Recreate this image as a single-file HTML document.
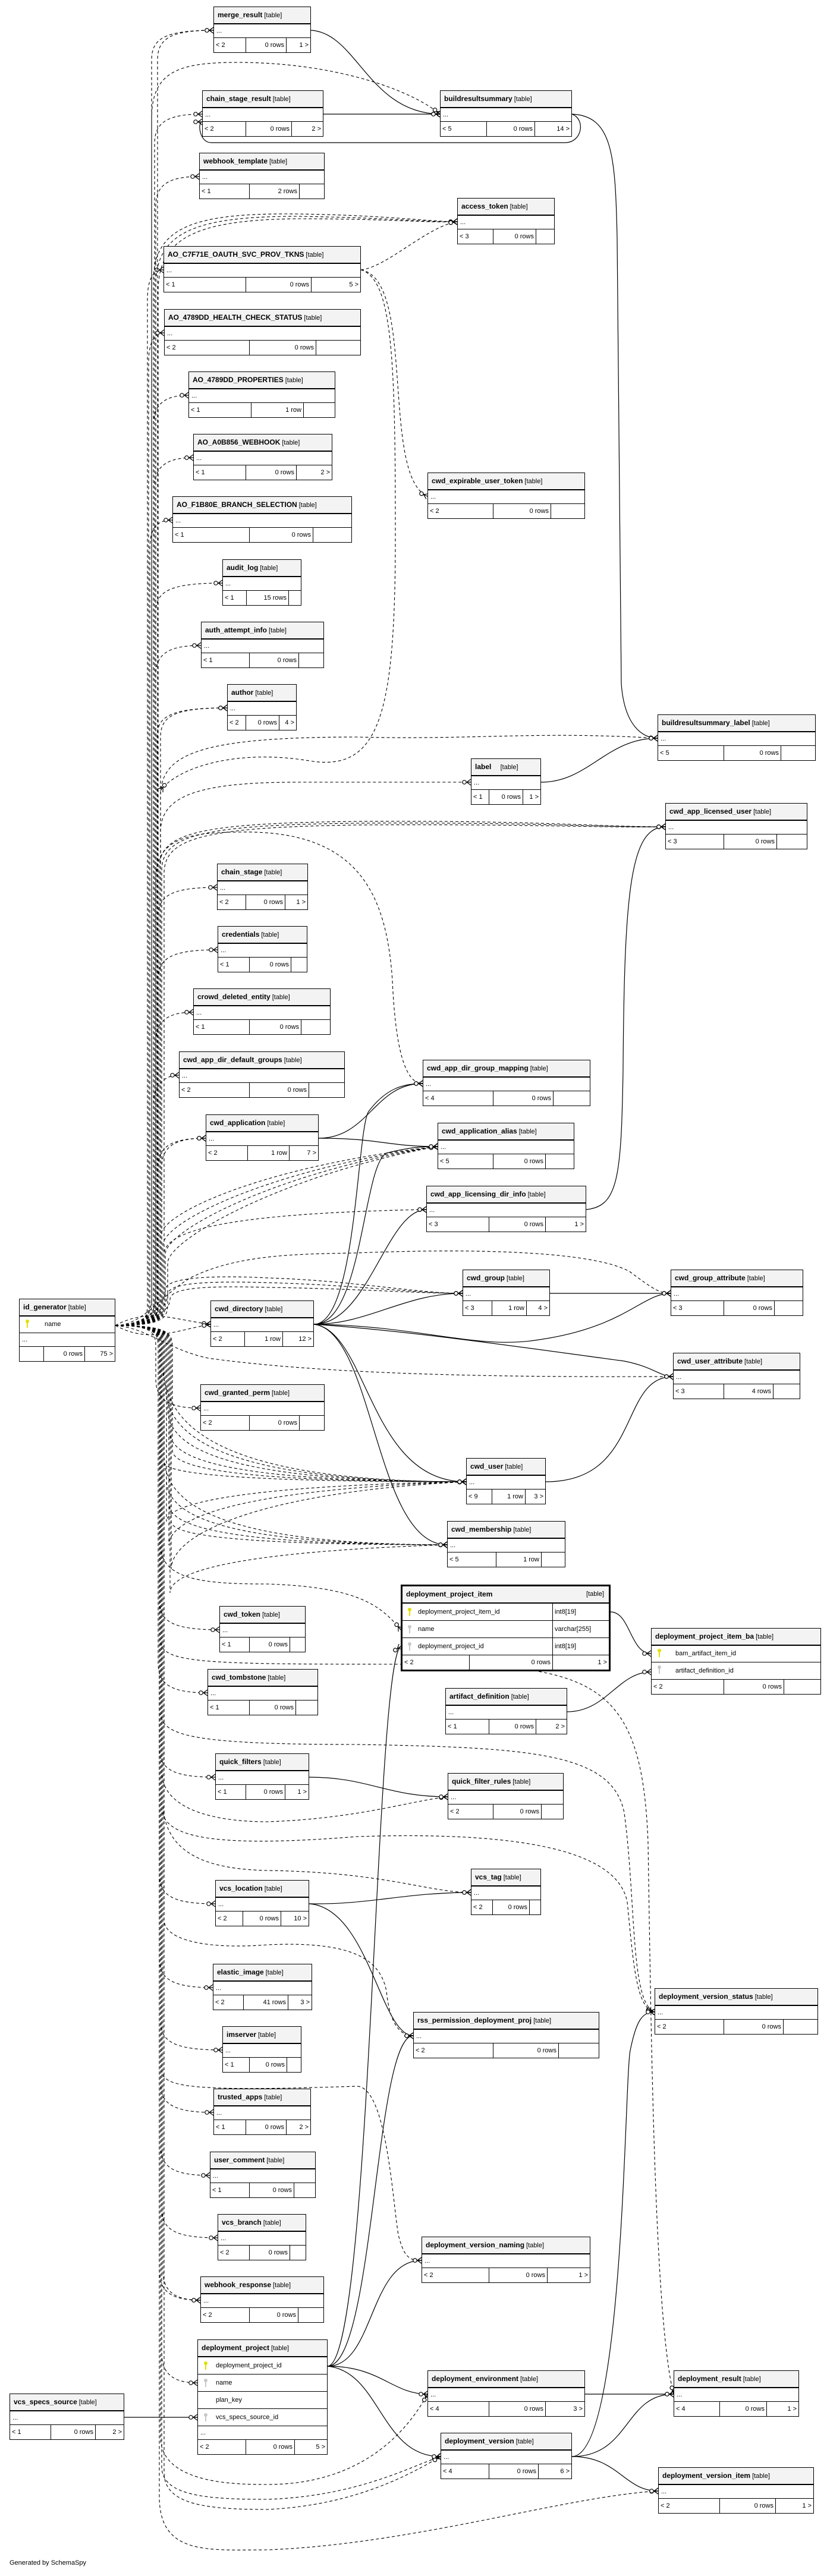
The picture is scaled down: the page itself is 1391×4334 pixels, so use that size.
<!DOCTYPE html>
<html><head><meta charset="utf-8"><style>
html,body{margin:0;padding:0;background:#fff}
body{width:1391px;height:4334px;position:relative;overflow:hidden;font-family:"Liberation Sans",sans-serif;color:#000}
svg.c{position:absolute;left:0;top:0}
.t{position:absolute;border:1px solid #000;background:#fff;font-size:11px;box-sizing:border-box}
.h{height:27px;line-height:27px;background:#f3f3f3;border-bottom:2px solid #000;padding-left:6px;white-space:nowrap;overflow:hidden;font-size:11px}
.h b{font-size:12px;margin-right:3px}
.r{height:22px;line-height:22px;border-bottom:1px solid #000;padding-left:4px;white-space:nowrap;overflow:hidden;position:relative}
.f{height:24px;display:flex;line-height:24px;white-space:nowrap}
.f span{box-sizing:border-box;padding:0 3px;overflow:hidden}
.f span+span{border-left:1px solid #000;text-align:right}
.f span:last-child{flex:1}
.k{position:absolute;top:4px}
.gen{position:absolute;left:16px;top:4306px;font-size:11px}
.thick{border:3px solid #000}
.cr{height:28px;line-height:28px;border-bottom:1px solid #000;display:flex;white-space:nowrap}
.cr span{box-sizing:border-box;overflow:hidden}
</style></head><body>

<svg class="c" width="1391" height="4334" viewBox="0 0 1391 4334">
<defs>
<marker id="cf" markerWidth="20" markerHeight="14" refX="19" refY="7" orient="auto" markerUnits="userSpaceOnUse">
<path d="M12 7L19 7M12 7L19 2M12 7L19 12" stroke="#000" fill="none" stroke-width="1.2"/>
<circle cx="8" cy="7" r="3.2" fill="#fff" stroke="#000" stroke-width="1.2"/>
</marker>
</defs>
<g fill="none" stroke="#000" stroke-width="1.1" stroke-dasharray="5,4" marker-end="url(#cf)">
<path d="M194 2230C255 2230 255 2215 255 2190L255 101C255 66 275 51 359 51"/>
<path d="M194 2230C265 2230 265 2215 265 2190L265 101C265 66 285 51 359 51"/>
<path d="M194 2230C260 2230 260 2215 260 2190L260 242C260 207 280 192 340 192"/>
<path d="M194 2230C262 2230 262 2215 262 2190L262 347C262 312 282 297 335 297"/>
<path d="M194 2230C248 2230 248 2215 248 2190L248 504C248 469 258 454 275 454"/>
<path d="M194 2230C250 2230 250 2215 250 2190L250 610C250 575 260 560 276 560"/>
<path d="M194 2230C258 2230 258 2215 258 2190L258 715C258 680 278 665 317 665"/>
<path d="M194 2230C260 2230 260 2215 260 2190L260 820C260 785 280 770 325 770"/>
<path d="M194 2230C252 2230 252 2215 252 2190L252 925C252 890 262 875 290 875"/>
<path d="M194 2230C262 2230 262 2215 262 2190L262 1031C262 996 282 981 374 981"/>
<path d="M194 2230C262 2230 262 2215 262 2190L262 1136C262 1101 282 1086 338 1086"/>
<path d="M194 2230C264 2230 264 2215 264 2190L264 1241C264 1206 284 1191 382 1191"/>
<path d="M194 2230C270 2230 270 2215 270 2190L270 1241C270 1206 290 1191 382 1191"/>
<path d="M194 2230C266 2230 266 2215 266 2190L266 1543C266 1508 286 1493 365 1493"/>
<path d="M194 2230C266 2230 266 2215 266 2190L266 1648C266 1613 286 1598 366 1598"/>
<path d="M194 2230C262 2230 262 2215 262 2190L262 1753C262 1718 282 1703 325 1703"/>
<path d="M194 2230C258 2230 258 2215 258 2190L258 1859C258 1824 278 1809 301 1809"/>
<path d="M194 2230C266 2230 266 2215 266 2190L266 1965C266 1930 286 1915 346 1915"/>
<path d="M194 2230C272 2230 272 2215 272 2190L272 1965C272 1930 292 1915 346 1915"/>
<path d="M194 2230C250 2200 290 2220 354 2228"/>
<path d="M194 2230C250 2260 290 2240 354 2228"/>
<path d="M194 2230C262 2230 262 2245 262 2270L262 2319C262 2354 282 2369 337 2369"/>
<path d="M194 2230C268 2230 268 2245 268 2270L268 2692C268 2727 288 2742 369 2742"/>
<path d="M194 2230C266 2230 266 2245 266 2270L266 2798C266 2833 286 2848 349 2848"/>
<path d="M194 2230C268 2230 268 2245 268 2270L268 2940C268 2975 288 2990 362 2990"/>
<path d="M194 2230C268 2230 268 2245 268 2270L268 3153C268 3188 288 3203 362 3203"/>
<path d="M194 2230C268 2230 268 2245 268 2270L268 3294C268 3329 288 3344 358 3344"/>
<path d="M194 2230C270 2230 270 2245 270 2270L270 3399C270 3434 290 3449 374 3449"/>
<path d="M194 2230C270 2230 270 2245 270 2270L270 3504C270 3539 290 3554 359 3554"/>
<path d="M194 2230C270 2230 270 2245 270 2270L270 3610C270 3645 290 3660 353 3660"/>
<path d="M194 2230C272 2230 272 2245 272 2270L272 3715C272 3750 292 3765 366 3765"/>
<path d="M194 2230C268 2230 268 2245 268 2270L268 3820C268 3855 288 3870 337 3870"/>
<path d="M194 2230C274 2230 274 2245 274 2270L274 3820C274 3855 294 3870 337 3870"/>
<path d="M194 2230C272 2230 272 2245 272 2270L272 3959C272 3994 292 4009 332 4009"/>

<path d="M194 2230C255 2230 255 2200 255 2180L255 200C255 120 300 105 400 105C560 105 690 150 740 192"/>
<path d="M194 2230C258 2230 258 2215 258 2190L258 473C258 380 330 358 500 360C650 362 720 373 769 373"/>
<path d="M194 2230C262 2230 262 2215 262 2190L262 480C262 390 330 364 500 364C650 366 720 374 769 373"/>
<path d="M194 2230C266 2230 266 2215 266 2190L266 490C266 400 330 370 500 368C650 368 720 375 769 373"/>
<path d="M194 2230C270 2230 270 2215 270 2190L270 1340C270 1270 330 1240 600 1240C800 1245 900 1230 1106 1242"/>
<path d="M194 2230C270 2230 270 2215 270 2190L270 1400C270 1340 330 1316 500 1316L792 1316"/>
<path d="M194 2230C268 2230 268 2215 268 2190L268 1460C268 1400 340 1385 600 1382C900 1380 1000 1391 1119 1391"/>
<path d="M194 2230C272 2230 272 2215 272 2190L272 1465C272 1405 340 1388 600 1385C900 1383 1000 1392 1119 1391"/>
<path d="M194 2230C276 2230 276 2215 276 2190L276 1470C276 1410 340 1392 600 1388C900 1386 1000 1393 1119 1391"/>
<path d="M194 2230C262 2230 262 2200 262 2170L262 1480C262 1420 300 1400 400 1400C600 1395 650 1500 660 1650C665 1760 680 1823 711 1823"/>
<path d="M194 2230C270 2230 270 2215 270 2190L270 2080C270 2040 450 1960 736 1929"/>
<path d="M194 2230C274 2230 274 2215 274 2190L274 2095C274 2055 460 1965 736 1929"/>
<path d="M194 2230C278 2230 278 2215 278 2190L278 2110C278 2070 470 1970 736 1929"/>
<path d="M194 2230C282 2230 282 2215 282 2190L282 2125C282 2085 480 1975 736 1929"/>
<path d="M194 2230C276 2230 276 2215 276 2190L276 2110C276 2060 450 2040 717 2035"/>
<path d="M194 2230C240 2230 278 2200 278 2170C278 2150 350 2145 450 2150C600 2155 700 2176 778 2176"/>
<path d="M194 2230C240 2230 282 2205 282 2178C282 2158 350 2155 450 2158C600 2162 700 2176 778 2176"/>
<path d="M194 2230C240 2230 286 2210 286 2186C286 2166 350 2163 450 2166C600 2168 700 2176 778 2176"/>
<path d="M194 2230C240 2230 270 2180 320 2150C400 2110 500 2110 600 2108C800 2100 1000 2105 1060 2140C1100 2170 1110 2176 1128 2176"/>
<path d="M194 2230C250 2235 280 2270 350 2285C600 2320 1000 2316 1132 2316"/>

<path d="M194 2230C274 2230 274 2245 274 2270L274 2293C274 2393 354 2493 784 2493"/>
<path d="M194 2230C278 2230 278 2245 278 2270L278 2330C278 2411 358 2493 784 2493"/>
<path d="M194 2230C282 2230 282 2245 282 2270L282 2370C282 2431 362 2493 784 2493"/>
<path d="M194 2230C286 2230 286 2245 286 2270L286 2410C286 2451 366 2493 784 2493"/>
<path d="M194 2230C290 2230 290 2245 290 2270L290 2440C290 2466 370 2493 784 2493"/>
<path d="M194 2230C276 2230 276 2245 276 2270L276 2460C276 2476 356 2493 784 2493"/>
<path d="M194 2230C280 2230 280 2245 280 2270L280 2560C280 2530 400 2500 784 2493"/>
<path d="M194 2230C284 2230 284 2245 284 2270L284 2600C284 2550 420 2505 784 2493"/>
<path d="M194 2230C288 2230 288 2245 288 2270L288 2640C288 2580 440 2510 784 2493"/>
<path d="M194 2230C276 2230 276 2245 276 2270L276 2450C276 2525 356 2599 752 2599"/>
<path d="M194 2230C280 2230 280 2245 280 2270L280 2490C280 2545 360 2599 752 2599"/>
<path d="M194 2230C284 2230 284 2245 284 2270L284 2530C284 2565 364 2599 752 2599"/>
<path d="M194 2230C288 2230 288 2245 288 2270L288 2560C288 2580 368 2599 752 2599"/>
<path d="M194 2230C286 2230 286 2245 286 2270L286 2680C286 2640 420 2610 752 2599"/>
<path d="M194 2230C270 2230 270 2245 270 2270L270 2600C270 2660 350 2665 450 2665C600 2670 640 2700 674 2742"/>
<path d="M194 2230C272 2230 272 2245 272 2270L272 2980C272 3040 350 3065 450 3065C600 3060 690 3030 753 3023"/>
<path d="M194 2230C274 2230 274 2245 274 2270L274 3030C274 3120 350 3145 450 3147C650 3150 720 3184 792 3184"/>
<path d="M194 2230C270 2230 270 2245 270 2270L270 2880C270 2920 320 2935 600 2935C900 2940 1030 2950 1050 3050C1070 3200 1060 3370 1101 3385"/>
<path d="M194 2230C272 2230 272 2245 272 2270L272 3040C272 3090 350 3110 600 3090C900 3080 1040 3120 1055 3200C1065 3300 1070 3380 1101 3385"/>
<path d="M194 2230C276 2230 276 2245 276 2270L276 3230C276 3265 350 3280 450 3272C600 3265 640 3300 650 3350C655 3400 670 3425 695 3425"/>
<path d="M194 2230C272 2230 272 2245 272 2270L272 3480C272 3510 300 3520 600 3510C650 3510 660 3700 670 3760C680 3800 690 3803 709 3803"/>
<path d="M194 2230C270 2230 270 2245 270 2270L270 4100C270 4180 400 4180 450 4180C600 4180 680 4100 719 4028"/>
<path d="M194 2230C272 2230 272 2245 272 2270L272 4150C272 4200 350 4205 450 4205C600 4200 690 4150 741 4133"/>
<path d="M194 2230C276 2230 276 2245 276 2270L276 4160C276 4215 350 4222 450 4222C600 4215 695 4160 741 4133"/>
<path d="M194 2230C268 2230 268 2245 268 2270L268 4200C268 4300 350 4290 450 4290C700 4280 950 4200 1107 4191"/>
<path d="M194 2230C270 2230 270 2245 270 2270L270 2760C270 2800 350 2800 700 2800C1000 2800 1080 2830 1090 3100C1095 3400 1100 3900 1133 4028"/>
<path d="M607 454C700 470 640 800 719 835"/>
<path d="M607 454C650 450 720 380 769 373"/>
<path d="M607 454C660 470 665 600 665 900C665 1200 640 1300 520 1280C400 1260 300 1290 270 1330"/>
</g>
<g fill="none" stroke="#000" stroke-width="1.2" marker-end="url(#cf)">
<path d="M523 51C600 55 620 190 740 192"/>
<path d="M544 192L740 192"/>
<path d="M962 192C985 200 980 240 950 240L355 240C335 240 332 205 340 205"/>
<path d="M962 192C1030 195 1035 260 1038 400L1045 1150C1050 1220 1080 1242 1106 1242"/>
<path d="M910 1316C990 1316 1020 1242 1106 1242"/>
<path d="M986 2035C1040 2030 1045 1980 1048 1800C1050 1500 1060 1391 1119 1391"/>
<path d="M536 1915C620 1915 630 1823 711 1823"/>
<path d="M536 1915C640 1915 650 1929 736 1929"/>
<path d="M528 2228C620 2228 680 2176 778 2176"/>
<path d="M528 2228C700 2230 800 2270 900 2255C1050 2235 1080 2176 1128 2176"/>
<path d="M528 2228C700 2240 900 2270 1050 2290C1100 2300 1110 2316 1132 2316"/>
<path d="M528 2228C620 2240 620 2493 784 2493"/>
<path d="M528 2228C630 2240 630 2599 752 2599"/>
<path d="M528 2228C600 2228 600 1900 620 1870C650 1830 680 1823 711 1823"/>
<path d="M528 2228C610 2228 610 1960 650 1940C690 1930 710 1929 736 1929"/>
<path d="M528 2228C620 2228 650 2035 717 2035"/>
<path d="M925 2176L1128 2176"/>
<path d="M918 2493C1080 2493 1040 2316 1132 2316"/>
<path d="M1027 2712C1060 2712 1060 2782 1095 2782"/>
<path d="M954 2880C1020 2880 1040 2813 1095 2813"/>
<path d="M520 2990C620 2990 650 3023 753 3023"/>
<path d="M520 3203C620 3205 680 3184 792 3184"/>
<path d="M520 3203C620 3210 640 3425 695 3425"/>
<path d="M551 3981C630 3981 620 3803 709 3803"/>
<path d="M551 3981C640 3981 660 4028 719 4028"/>
<path d="M551 3981C640 3990 640 4133 741 4133"/>
<path d="M551 3981C630 3980 630 3425 695 3425"/>
<path d="M551 3981C625 3978 630 2800 674 2770"/>
<path d="M984 4028L1133 4028"/>
<path d="M962 4133C1060 4133 1050 4028 1133 4028"/>
<path d="M962 4133C1040 4133 1050 4191 1107 4191"/>
<path d="M962 4133C1050 4133 1050 3500 1060 3450C1070 3400 1080 3385 1101 3385"/>
<path d="M209 4067L332 4067"/>
</g>
</svg>

<div class="t" style="left:359px;top:11px;width:164px"><div class="h"><b>merge_result</b>[table]</div><div class="r">...</div><div class="f"><span style="width:53px">&lt; 2</span><span style="width:68px">0 rows</span><span>1 &gt;</span></div></div>
<div class="t" style="left:340px;top:152px;width:204px"><div class="h"><b>chain_stage_result</b>[table]</div><div class="r">...</div><div class="f"><span style="width:72px">&lt; 2</span><span style="width:77px">0 rows</span><span>2 &gt;</span></div></div>
<div class="t" style="left:740px;top:152px;width:222px"><div class="h"><b>buildresultsummary</b>[table]</div><div class="r">...</div><div class="f"><span style="width:77px">&lt; 5</span><span style="width:81px">0 rows</span><span>14 &gt;</span></div></div>
<div class="t" style="left:335px;top:257px;width:211px"><div class="h"><b>webhook_template</b>[table]</div><div class="r">...</div><div class="f"><span style="width:83px">&lt; 1</span><span style="width:84px">2 rows</span><span></span></div></div>
<div class="t" style="left:769px;top:333px;width:164px"><div class="h"><b>access_token</b>[table]</div><div class="r">...</div><div class="f"><span style="width:59px">&lt; 3</span><span style="width:72px">0 rows</span><span></span></div></div>
<div class="t" style="left:275px;top:414px;width:332px"><div class="h"><b>AO_C7F71E_OAUTH_SVC_PROV_TKNS</b>[table]</div><div class="r">...</div><div class="f"><span style="width:137px">&lt; 1</span><span style="width:110px">0 rows</span><span>5 &gt;</span></div></div>
<div class="t" style="left:276px;top:520px;width:331px"><div class="h"><b>AO_4789DD_HEALTH_CHECK_STATUS</b>[table]</div><div class="r">...</div><div class="f"><span style="width:142px">&lt; 2</span><span style="width:112px">0 rows</span><span></span></div></div>
<div class="t" style="left:317px;top:625px;width:247px"><div class="h"><b>AO_4789DD_PROPERTIES</b>[table]</div><div class="r">...</div><div class="f"><span style="width:104px">&lt; 1</span><span style="width:88px">1 row</span><span></span></div></div>
<div class="t" style="left:325px;top:730px;width:234px"><div class="h"><b>AO_A0B856_WEBHOOK</b>[table]</div><div class="r">...</div><div class="f"><span style="width:87px">&lt; 1</span><span style="width:85px">0 rows</span><span>2 &gt;</span></div></div>
<div class="t" style="left:290px;top:835px;width:302px"><div class="h"><b>AO_F1B80E_BRANCH_SELECTION</b>[table]</div><div class="r">...</div><div class="f"><span style="width:128px">&lt; 1</span><span style="width:107px">0 rows</span><span></span></div></div>
<div class="t" style="left:719px;top:795px;width:265px"><div class="h"><b>cwd_expirable_user_token</b>[table]</div><div class="r">...</div><div class="f"><span style="width:109px">&lt; 2</span><span style="width:97px">0 rows</span><span></span></div></div>
<div class="t" style="left:374px;top:941px;width:133px"><div class="h"><b>audit_log</b>[table]</div><div class="r">...</div><div class="f"><span style="width:39px">&lt; 1</span><span style="width:71px">15 rows</span><span></span></div></div>
<div class="t" style="left:338px;top:1046px;width:207px"><div class="h"><b>auth_attempt_info</b>[table]</div><div class="r">...</div><div class="f"><span style="width:80px">&lt; 1</span><span style="width:83px">0 rows</span><span></span></div></div>
<div class="t" style="left:382px;top:1151px;width:117px"><div class="h"><b>author</b>[table]</div><div class="r">...</div><div class="f"><span style="width:30px">&lt; 2</span><span style="width:56px">0 rows</span><span>4 &gt;</span></div></div>
<div class="t" style="left:1106px;top:1202px;width:266px"><div class="h"><b>buildresultsummary_label</b>[table]</div><div class="r">...</div><div class="f"><span style="width:110px">&lt; 5</span><span style="width:96px">0 rows</span><span></span></div></div>
<div class="t" style="left:792px;top:1276px;width:118px"><div class="h"><b>label</b> &nbsp; &nbsp;[table]</div><div class="r">...</div><div class="f"><span style="width:29px">&lt; 1</span><span style="width:57px">0 rows</span><span>1 &gt;</span></div></div>
<div class="t" style="left:1119px;top:1351px;width:239px"><div class="h"><b>cwd_app_licensed_user</b>[table]</div><div class="r">...</div><div class="f"><span style="width:97px">&lt; 3</span><span style="width:89px">0 rows</span><span></span></div></div>
<div class="t" style="left:365px;top:1453px;width:153px"><div class="h"><b>chain_stage</b>[table]</div><div class="r">...</div><div class="f"><span style="width:47px">&lt; 2</span><span style="width:66px">0 rows</span><span>1 &gt;</span></div></div>
<div class="t" style="left:366px;top:1558px;width:151px"><div class="h"><b>credentials</b>[table]</div><div class="r">...</div><div class="f"><span style="width:52px">&lt; 1</span><span style="width:70px">0 rows</span><span></span></div></div>
<div class="t" style="left:325px;top:1663px;width:231px"><div class="h"><b>crowd_deleted_entity</b>[table]</div><div class="r">...</div><div class="f"><span style="width:93px">&lt; 1</span><span style="width:87px">0 rows</span><span></span></div></div>
<div class="t" style="left:301px;top:1769px;width:279px"><div class="h"><b>cwd_app_dir_default_groups</b>[table]</div><div class="r">...</div><div class="f"><span style="width:117px">&lt; 2</span><span style="width:100px">0 rows</span><span></span></div></div>
<div class="t" style="left:346px;top:1875px;width:190px"><div class="h"><b>cwd_application</b>[table]</div><div class="r">...</div><div class="f"><span style="width:69px">&lt; 2</span><span style="width:70px">1 row</span><span>7 &gt;</span></div></div>
<div class="t" style="left:711px;top:1783px;width:282px"><div class="h"><b>cwd_app_dir_group_mapping</b>[table]</div><div class="r">...</div><div class="f"><span style="width:117px">&lt; 4</span><span style="width:101px">0 rows</span><span></span></div></div>
<div class="t" style="left:736px;top:1889px;width:230px"><div class="h"><b>cwd_application_alias</b>[table]</div><div class="r">...</div><div class="f"><span style="width:92px">&lt; 5</span><span style="width:88px">0 rows</span><span></span></div></div>
<div class="t" style="left:717px;top:1995px;width:269px"><div class="h"><b>cwd_app_licensing_dir_info</b>[table]</div><div class="r">...</div><div class="f"><span style="width:104px">&lt; 3</span><span style="width:95px">0 rows</span><span>1 &gt;</span></div></div>

<div class="t" style="left:32px;top:2185px;width:162px"><div class="h"><b>id_generator</b>[table]</div><div class="r" style="height:27px;line-height:27px"><svg class="k" style="left:9px" width="8" height="16"><circle cx="4" cy="4" r="3" fill="#e0e000"/><rect x="3" y="5" width="2" height="10" fill="#e0e000"/></svg><span style="padding-left:38px">name</span></div><div class="r">...</div><div class="f"><span style="width:40px"></span><span style="width:69px">0 rows</span><span>75 &gt;</span></div></div>

<div class="t" style="left:354px;top:2188px;width:174px"><div class="h"><b>cwd_directory</b>[table]</div><div class="r">...</div><div class="f"><span style="width:56px">&lt; 2</span><span style="width:64px">1 row</span><span>12 &gt;</span></div></div>
<div class="t" style="left:778px;top:2136px;width:147px"><div class="h"><b>cwd_group</b>[table]</div><div class="r">...</div><div class="f"><span style="width:48px">&lt; 3</span><span style="width:58px">1 row</span><span>4 &gt;</span></div></div>
<div class="t" style="left:1128px;top:2136px;width:223px"><div class="h"><b>cwd_group_attribute</b>[table]</div><div class="r">...</div><div class="f"><span style="width:88px">&lt; 3</span><span style="width:85px">0 rows</span><span></span></div></div>
<div class="t" style="left:1132px;top:2276px;width:214px"><div class="h"><b>cwd_user_attribute</b>[table]</div><div class="r">...</div><div class="f"><span style="width:84px">&lt; 3</span><span style="width:83px">4 rows</span><span></span></div></div>
<div class="t" style="left:337px;top:2329px;width:209px"><div class="h"><b>cwd_granted_perm</b>[table]</div><div class="r">...</div><div class="f"><span style="width:81px">&lt; 2</span><span style="width:84px">0 rows</span><span></span></div></div>
<div class="t" style="left:784px;top:2453px;width:134px"><div class="h"><b>cwd_user</b>[table]</div><div class="r">...</div><div class="f"><span style="width:42px">&lt; 9</span><span style="width:56px">1 row</span><span>3 &gt;</span></div></div>
<div class="t" style="left:752px;top:2559px;width:199px"><div class="h"><b>cwd_membership</b>[table]</div><div class="r">...</div><div class="f"><span style="width:81px">&lt; 5</span><span style="width:76px">1 row</span><span></span></div></div>

<div class="t thick" style="left:674px;top:2666px;width:353px;height:146px"><div class="h" style="display:flex;justify-content:space-between;padding-right:8px"><b>deployment_project_item</b><span>[table]</span></div>
<div class="cr"><span style="width:252px;position:relative;padding-left:26px"><svg class="k" style="left:8px;top:6px" width="8" height="16"><circle cx="4" cy="4" r="3" fill="#e0e000"/><rect x="3" y="5" width="2" height="10" fill="#e0e000"/></svg>deployment_project_item_id</span><span style="border-left:1px solid #000;padding-left:3px;flex:1">int8[19]</span></div>
<div class="cr"><span style="width:252px;position:relative;padding-left:26px"><svg class="k" style="left:8px;top:6px" width="8" height="16"><circle cx="4" cy="4" r="3" fill="#c8c8c8"/><rect x="3" y="5" width="2" height="10" fill="#c8c8c8"/></svg>name</span><span style="border-left:1px solid #000;padding-left:3px;flex:1">varchar[255]</span></div>
<div class="cr"><span style="width:252px;position:relative;padding-left:26px"><svg class="k" style="left:8px;top:6px" width="8" height="16"><circle cx="4" cy="4" r="3" fill="#c8c8c8"/><rect x="3" y="5" width="2" height="10" fill="#c8c8c8"/></svg>deployment_project_id</span><span style="border-left:1px solid #000;padding-left:3px;flex:1">int8[19]</span></div>
<div class="f"><span style="width:112px">&lt; 2</span><span style="width:140px">0 rows</span><span>1 &gt;</span></div></div>

<div class="t" style="left:369px;top:2702px;width:145px"><div class="h"><b>cwd_token</b>[table]</div><div class="r">...</div><div class="f"><span style="width:49px">&lt; 1</span><span style="width:68px">0 rows</span><span></span></div></div>

<div class="t" style="left:1095px;top:2739px;width:286px"><div class="h"><b>deployment_project_item_ba</b>[table]</div>
<div class="r" style="height:27px;line-height:27px"><svg class="k" style="left:9px" width="8" height="16"><circle cx="4" cy="4" r="3" fill="#e0e000"/><rect x="3" y="5" width="2" height="10" fill="#e0e000"/></svg><span style="padding-left:36px">bam_artifact_item_id</span></div>
<div class="r" style="height:28px;line-height:28px"><svg class="k" style="left:9px" width="8" height="16"><circle cx="4" cy="4" r="3" fill="#c8c8c8"/><rect x="3" y="5" width="2" height="10" fill="#c8c8c8"/></svg><span style="padding-left:36px">artifact_definition_id</span></div>
<div class="f"><span style="width:121px">&lt; 2</span><span style="width:101px">0 rows</span><span></span></div></div>

<div class="t" style="left:349px;top:2808px;width:186px"><div class="h"><b>cwd_tombstone</b>[table]</div><div class="r">...</div><div class="f"><span style="width:69px">&lt; 1</span><span style="width:78px">0 rows</span><span></span></div></div>
<div class="t" style="left:749px;top:2840px;width:205px"><div class="h"><b>artifact_definition</b>[table]</div><div class="r">...</div><div class="f"><span style="width:72px">&lt; 1</span><span style="width:79px">0 rows</span><span>2 &gt;</span></div></div>
<div class="t" style="left:362px;top:2950px;width:158px"><div class="h"><b>quick_filters</b>[table]</div><div class="r">...</div><div class="f"><span style="width:50px">&lt; 1</span><span style="width:66px">0 rows</span><span>1 &gt;</span></div></div>
<div class="t" style="left:753px;top:2983px;width:195px"><div class="h"><b>quick_filter_rules</b>[table]</div><div class="r">...</div><div class="f"><span style="width:75px">&lt; 2</span><span style="width:81px">0 rows</span><span></span></div></div>
<div class="t" style="left:362px;top:3163px;width:158px"><div class="h"><b>vcs_location</b>[table]</div><div class="r">...</div><div class="f"><span style="width:45px">&lt; 2</span><span style="width:64px">0 rows</span><span>10 &gt;</span></div></div>
<div class="t" style="left:792px;top:3144px;width:118px"><div class="h"><b>vcs_tag</b>[table]</div><div class="r">...</div><div class="f"><span style="width:35px">&lt; 2</span><span style="width:62px">0 rows</span><span></span></div></div>
<div class="t" style="left:358px;top:3304px;width:167px"><div class="h"><b>elastic_image</b>[table]</div><div class="r">...</div><div class="f"><span style="width:50px">&lt; 2</span><span style="width:75px">41 rows</span><span>3 &gt;</span></div></div>
<div class="t" style="left:1101px;top:3345px;width:275px"><div class="h"><b>deployment_version_status</b>[table]</div><div class="r">...</div><div class="f"><span style="width:115px">&lt; 2</span><span style="width:100px">0 rows</span><span></span></div></div>
<div class="t" style="left:695px;top:3385px;width:313px"><div class="h"><b>rss_permission_deployment_proj</b>[table]</div><div class="r">...</div><div class="f"><span style="width:133px">&lt; 2</span><span style="width:110px">0 rows</span><span></span></div></div>
<div class="t" style="left:374px;top:3409px;width:133px"><div class="h"><b>imserver</b>[table]</div><div class="r">...</div><div class="f"><span style="width:44px">&lt; 1</span><span style="width:63px">0 rows</span><span></span></div></div>
<div class="t" style="left:359px;top:3514px;width:164px"><div class="h"><b>trusted_apps</b>[table]</div><div class="r">...</div><div class="f"><span style="width:53px">&lt; 1</span><span style="width:68px">0 rows</span><span>2 &gt;</span></div></div>
<div class="t" style="left:353px;top:3620px;width:178px"><div class="h"><b>user_comment</b>[table]</div><div class="r">...</div><div class="f"><span style="width:65px">&lt; 1</span><span style="width:75px">0 rows</span><span></span></div></div>
<div class="t" style="left:366px;top:3725px;width:149px"><div class="h"><b>vcs_branch</b>[table]</div><div class="r">...</div><div class="f"><span style="width:52px">&lt; 2</span><span style="width:68px">0 rows</span><span></span></div></div>
<div class="t" style="left:337px;top:3830px;width:208px"><div class="h"><b>webhook_response</b>[table]</div><div class="r">...</div><div class="f"><span style="width:81px">&lt; 2</span><span style="width:82px">0 rows</span><span></span></div></div>
<div class="t" style="left:709px;top:3763px;width:284px"><div class="h"><b>deployment_version_naming</b>[table]</div><div class="r">...</div><div class="f"><span style="width:112px">&lt; 2</span><span style="width:98px">0 rows</span><span>1 &gt;</span></div></div>

<div class="t" style="left:332px;top:3936px;width:219px"><div class="h"><b>deployment_project</b>[table]</div>
<div class="r" style="height:28px;line-height:28px"><svg class="k" style="left:9px;top:6px" width="8" height="16"><circle cx="4" cy="4" r="3" fill="#e0e000"/><rect x="3" y="5" width="2" height="10" fill="#e0e000"/></svg><span style="padding-left:26px">deployment_project_id</span></div>
<div class="r" style="height:28px;line-height:28px"><svg class="k" style="left:9px;top:6px" width="8" height="16"><circle cx="4" cy="4" r="3" fill="#c8c8c8"/><rect x="3" y="5" width="2" height="10" fill="#c8c8c8"/></svg><span style="padding-left:26px">name</span></div>
<div class="r" style="height:28px;line-height:28px"><span style="padding-left:26px">plan_key</span></div>
<div class="r" style="height:28px;line-height:28px"><svg class="k" style="left:9px;top:6px" width="8" height="16"><circle cx="4" cy="4" r="3" fill="#c8c8c8"/><rect x="3" y="5" width="2" height="10" fill="#c8c8c8"/></svg><span style="padding-left:26px">vcs_specs_source_id</span></div>
<div class="r">...</div>
<div class="f"><span style="width:80px">&lt; 2</span><span style="width:82px">0 rows</span><span>5 &gt;</span></div></div>

<div class="t" style="left:16px;top:4027px;width:193px"><div class="h"><b>vcs_specs_source</b>[table]</div><div class="r">...</div><div class="f"><span style="width:68px">&lt; 1</span><span style="width:75px">0 rows</span><span>2 &gt;</span></div></div>
<div class="t" style="left:719px;top:3988px;width:265px"><div class="h"><b>deployment_environment</b>[table]</div><div class="r">...</div><div class="f"><span style="width:102px">&lt; 4</span><span style="width:95px">0 rows</span><span>3 &gt;</span></div></div>
<div class="t" style="left:1133px;top:3988px;width:211px"><div class="h"><b>deployment_result</b>[table]</div><div class="r">...</div><div class="f"><span style="width:76px">&lt; 4</span><span style="width:79px">0 rows</span><span>1 &gt;</span></div></div>
<div class="t" style="left:741px;top:4093px;width:221px"><div class="h"><b>deployment_version</b>[table]</div><div class="r">...</div><div class="f"><span style="width:80px">&lt; 4</span><span style="width:83px">0 rows</span><span>6 &gt;</span></div></div>
<div class="t" style="left:1107px;top:4151px;width:262px"><div class="h"><b>deployment_version_item</b>[table]</div><div class="r">...</div><div class="f"><span style="width:102px">&lt; 2</span><span style="width:94px">0 rows</span><span>1 &gt;</span></div></div>

<div class="gen">Generated by SchemaSpy</div>
</body></html>
